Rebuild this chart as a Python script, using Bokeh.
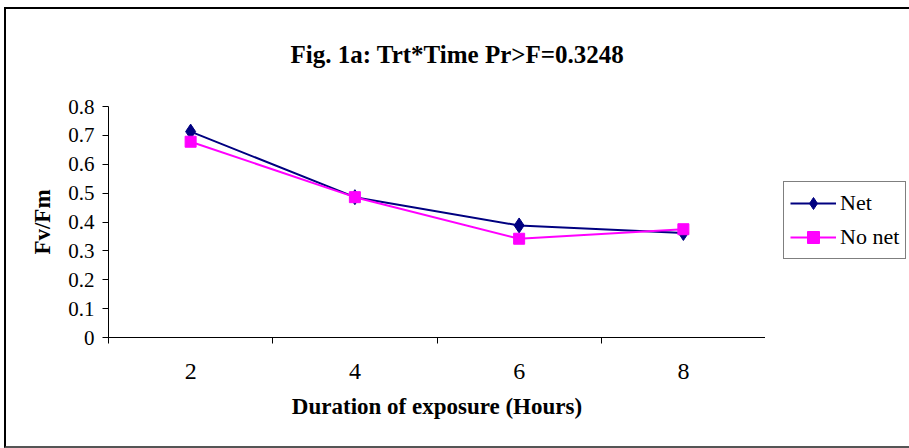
from bokeh.plotting import figure
from bokeh.layouts import row
from bokeh.models import (FixedTicker, Legend, LegendItem, ColumnDataSource, Range1d,
                          InlineStyleSheet)
from bokeh.embed import file_html
from bokeh.resources import INLINE

# ---- data ----
hours = [2, 4, 6, 8]
x_tick_labels = ["2", "4", "6", "8"]
x_boundaries = [1, 3, 5, 7, 9]
net = [0.713, 0.486, 0.388, 0.362]
no_net = [0.678, 0.486, 0.342, 0.375]
y_ticks = [0, 0.1, 0.2, 0.3, 0.4, 0.5, 0.6, 0.7, 0.8]
y_tick_labels = ["0", "0.1", "0.2", "0.3", "0.4", "0.5", "0.6", "0.7", "0.8"]
title_text = "Fig. 1a:  Trt*Time Pr>F=0.3248"
x_title = "Duration of exposure (Hours)"
y_title = "Fv/Fm"
series_names = ["Net", "No net"]

FONT = "Liberation Serif"
NET_COLOR = "#000080"
NONET_COLOR = "#FF00FF"

W, H = 909, 448
AX_L, AX_R, AX_T, AX_B = 108, 765, 106, 337

border_css = InlineStyleSheet(css="""
:host { position: relative; }
:host::after {
  content: ""; position: absolute; left: 4px; top: 7px; right: 0px; bottom: 0px;
  border-left: 2px solid #000; border-top: 2px solid #000; border-bottom: 2px solid #555;
  box-sizing: border-box; pointer-events: none;
}
""")

# ---------------- main chart ----------------
p = figure(width=AX_R, height=H, output_backend="svg", toolbar_location=None,
           x_range=Range1d(x_boundaries[0], x_boundaries[-1]),
           y_range=Range1d(y_ticks[0], y_ticks[-1]),
           min_border_left=AX_L, min_border_right=0,
           min_border_top=AX_T, min_border_bottom=H - AX_B)
p.background_fill_color = "white"
p.border_fill_color = "white"
p.outline_line_color = None
p.xgrid.grid_line_color = None
p.ygrid.grid_line_color = None

xa = p.below[0]
ya = p.left[0]

p.title.text = title_text
p.title.text_font = FONT
p.title.text_font_size = "25px"
p.title.text_font_style = "bold"
p.title.text_color = "black"
p.title.align = "left"
p.title.vertical_align = "top"
p.title.offset = 290 - AX_L
p.title.standoff = 74

xa.ticker = FixedTicker(ticks=hours, minor_ticks=x_boundaries)
xa.major_label_overrides = {h: l for h, l in zip(hours, x_tick_labels)}
xa.major_tick_out = 0
xa.major_tick_in = 0
xa.minor_tick_out = 6
xa.minor_tick_in = 0
xa.minor_tick_line_color = "black"
xa.axis_line_color = "black"
xa.major_label_text_font = FONT
xa.major_label_text_font_size = "24px"
xa.major_label_text_color = "black"
xa.major_label_standoff = 20
xa.axis_label = x_title
xa.axis_label_text_font = FONT
xa.axis_label_text_font_size = "23px"
xa.axis_label_text_font_style = "bold"
xa.axis_label_text_color = "black"
xa.axis_label_standoff = 12

ya.ticker = FixedTicker(ticks=y_ticks, minor_ticks=[])
ya.major_label_overrides = {t: l for t, l in zip(y_ticks, y_tick_labels)}
ya.major_tick_out = 6
ya.major_tick_in = 0
ya.axis_line_color = "black"
ya.major_tick_line_color = "black"
ya.major_label_text_font = FONT
ya.major_label_text_font_size = "21px"
ya.major_label_text_color = "black"
ya.major_label_standoff = 8
ya.axis_label = y_title
ya.axis_label_text_font = FONT
ya.axis_label_text_font_size = "23px"
ya.axis_label_text_font_style = "bold"
ya.axis_label_text_color = "black"
ya.axis_label_standoff = 10

src_net = ColumnDataSource(dict(x=hours, y=net))
src_no = ColumnDataSource(dict(x=hours, y=no_net))

p.line("x", "y", source=src_net, line_color=NET_COLOR, line_width=2)
p.scatter("x", "y", source=src_net, marker="diamond", size=15,
          fill_color=NET_COLOR, line_color=NET_COLOR)
p.line("x", "y", source=src_no, line_color=NONET_COLOR, line_width=2)
p.scatter("x", "y", source=src_no, marker="square", size=11,
          fill_color=NONET_COLOR, line_color=NONET_COLOR)

# ---------------- legend panel (frame aligned with main chart's frame) ----------------
q = figure(width=W - AX_R, height=H, output_backend="svg", toolbar_location=None,
           x_axis_type=None, y_axis_type=None, title=None,
           min_border_left=0, min_border_right=0, min_border_top=0, min_border_bottom=0)
q.background_fill_color = "white"
q.border_fill_color = "white"
q.outline_line_color = None
q.xgrid.grid_line_color = None
q.ygrid.grid_line_color = None

# legend swatches only: same series, hidden in this panel
ql1 = q.line("x", "y", source=src_net, line_color=NET_COLOR, line_width=2, visible=False)
qs1 = q.scatter("x", "y", source=src_net, marker="diamond", size=15,
                fill_color=NET_COLOR, line_color=NET_COLOR, visible=False)
ql2 = q.line("x", "y", source=src_no, line_color=NONET_COLOR, line_width=2, visible=False)
qs2 = q.scatter("x", "y", source=src_no, marker="square", size=11,
                fill_color=NONET_COLOR, line_color=NONET_COLOR, visible=False)

legend = Legend(items=[LegendItem(label=series_names[0], renderers=[ql1, qs1]),
                       LegendItem(label=series_names[1], renderers=[ql2, qs2])],
                location=(783 - AX_R, AX_B - 259), click_policy="none")
legend.label_text_font = FONT
legend.label_text_font_size = "22px"
legend.label_text_color = "black"
legend.glyph_width = 46
legend.glyph_height = 30
legend.label_standoff = 4
legend.padding = 6
legend.spacing = 4
legend.margin = 0
legend.border_line_color = "black"
legend.border_line_width = 1
legend.background_fill_color = "white"
legend.background_fill_alpha = 1
q.add_layout(legend, "center")

layout = row(p, q, spacing=0, stylesheets=[border_css])

open("out.html", "w").write(file_html(layout, INLINE))
